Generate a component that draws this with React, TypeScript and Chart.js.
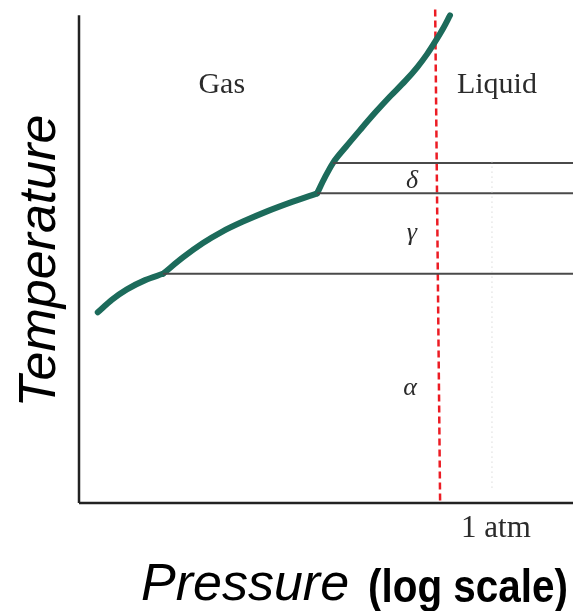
import React, { useEffect, useRef } from "react";
import { Chart, registerables } from "chart.js";

Chart.register(...registerables);

// Phase boundary curve (log pressure vs temperature, arbitrary units), split at kinks
const curveAlphaGas = [
  { x: 3.8, y: 39.1 }, { x: 6.7, y: 41.7 }, { x: 9.7, y: 43.8 }, { x: 13.4, y: 45.7 }, { x: 17.0, y: 47.0 },
];
const curveGammaGas = [
  { x: 17.0, y: 47.0 }, { x: 21.1, y: 50.4 }, { x: 25.1, y: 53.3 }, { x: 29.1, y: 55.7 }, { x: 33.2, y: 57.7 },
  { x: 38.3, y: 59.9 }, { x: 43.3, y: 61.8 }, { x: 48.2, y: 63.5 },
];
const curveUpper = [
  { x: 48.2, y: 63.5 }, { x: 49.8, y: 66.8 }, { x: 51.4, y: 69.7 }, { x: 54.0, y: 73.0 }, { x: 57.0, y: 76.6 },
  { x: 60.0, y: 80.1 }, { x: 63.0, y: 83.4 }, { x: 66.0, y: 86.5 }, { x: 68.5, y: 89.4 }, { x: 70.5, y: 92.1 },
  { x: 72.1, y: 94.6 }, { x: 73.7, y: 97.3 }, { x: 75.1, y: 100.0 },
];
// Solid-solid boundaries (horizontal lines)
const boundaryDelta = [{ x: 51.4, y: 69.7 }, { x: 100, y: 69.7 }];
const boundaryGammaDelta = [{ x: 48.2, y: 63.5 }, { x: 100, y: 63.5 }];
const boundaryAlphaGamma = [{ x: 17.0, y: 47.0 }, { x: 100, y: 47.0 }];
// Reference lines
const dashedRed = [{ x: 72.1, y: 101.2 }, { x: 73.1, y: 0 }];
const oneAtmDotted = [{ x: 83.6, y: 70 }, { x: 83.6, y: 3 }];
const axisY = [{ x: 0, y: 0 }, { x: 0, y: 100 }];
const axisX = [{ x: 0, y: 0 }, { x: 100, y: 0 }];

// Region labels
const regionLabels = ["Gas", "Liquid", "δ", "γ", "α"];
const regionX = [28.9, 84.6, 67.4, 67.4, 67.0];
const regionY = [84.1, 84.1, 64.6, 53.9, 22.1];
const tickLabel = "1 atm";
const tickX = 84.4;

export default function App() {
  const ref = useRef<HTMLCanvasElement | null>(null);
  useEffect(() => {
    if (!ref.current) return;
    const textPlugin = {
      id: "texts",
      afterDraw(chart: any) {
        const ctx = chart.ctx;
        const xs = chart.scales.x;
        const ys = chart.scales.y;
        ctx.save();
        ctx.fillStyle = "#2b2b2b";
        ctx.textAlign = "center";
        ctx.textBaseline = "alphabetic";
        regionLabels.forEach((t, i) => {
          const greek = i >= 2;
          ctx.font = greek ? "italic 26px 'Liberation Serif', serif" : "30px 'Liberation Serif', serif";
          ctx.fillText(t, xs.getPixelForValue(regionX[i]), ys.getPixelForValue(regionY[i]));
        });
        ctx.font = "31px 'Liberation Serif', serif";
        ctx.fillText(tickLabel, xs.getPixelForValue(tickX), 537);
        // axis titles
        ctx.fillStyle = "#000";
        ctx.font = "italic 52px 'Liberation Sans', Arial, sans-serif";
        ctx.textAlign = "left";
        ctx.fillText("Pressure", 141, 600);
        ctx.font = "bold 47px 'Liberation Sans', Arial, sans-serif";
        ctx.fillText("(log scale)", 368, 602, 200);
        ctx.translate(55, 261);
        ctx.rotate(-Math.PI / 2);
        ctx.textAlign = "center";
        ctx.font = "italic 52px 'Liberation Sans', Arial, sans-serif";
        ctx.fillText("Temperature", 0, 0);
        ctx.restore();
      },
    };
    const teal = "#1c6b5b";
    const line = (data: any[], color: string, width: number, extra: any = {}) => ({
      data,
      showLine: true,
      borderColor: color,
      borderWidth: width,
      pointRadius: 0,
      fill: false,
      clip: false,
      ...extra,
    });
    const curve = { cubicInterpolationMode: "monotone", borderCapStyle: "round", borderJoinStyle: "round" };
    const chart = new Chart(ref.current, {
      type: "scatter",
      data: {
        datasets: [
          line(oneAtmDotted, "#c8c8c8", 1, { borderDash: [1, 4] }),
          line(axisY, "#222", 2.5),
          line(axisX, "#222", 2.5),
          line(boundaryDelta, "#4a4a4a", 2),
          line(boundaryGammaDelta, "#4a4a4a", 2),
          line(boundaryAlphaGamma, "#4a4a4a", 2),
          line(curveAlphaGas, teal, 6, curve),
          line(curveGammaGas, teal, 6, curve),
          line(curveUpper, teal, 6, curve),
          line(dashedRed, "#ec1c24", 2.5, { borderDash: [7, 4] }),
        ],
      },
      options: {
        animation: false,
        responsive: false,
        layout: { padding: { left: 79, right: 4, top: 8, bottom: 108 } },
        plugins: { legend: { display: false }, tooltip: { enabled: false } },
        scales: {
          x: { type: "linear", min: 0, max: 100, display: false },
          y: { type: "linear", min: 0, max: 101.5, display: false },
        },
      },
      plugins: [textPlugin],
    });
    return () => chart.destroy();
  }, []);
  return (
    <div style={{ position: "absolute", left: 0, top: 0, width: 577, height: 611, background: "#fff" }}>
      <canvas ref={ref} width={577} height={611} />
    </div>
  );
}
